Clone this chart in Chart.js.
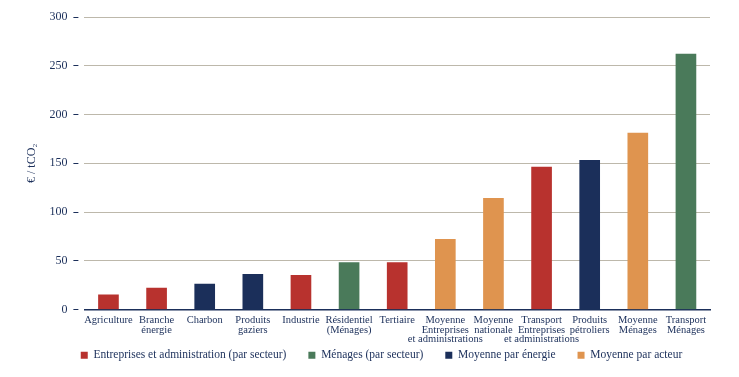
<!DOCTYPE html>
<html>
<head>
<meta charset="utf-8">
<script src="https://cdn.jsdelivr.net/npm/chart.js@4.4.0/dist/chart.umd.min.js"></script>
<style>
  html, body { margin: 0; padding: 0; background: #fff; }
</style>
</head>
<body>
<canvas id="chart" width="739" height="377"></canvas>
<script>
const categories = [
    'Agriculture', ['Branche', 'énergie'], 'Charbon', ['Produits', 'gaziers'], 'Industrie',
    ['Résidentiel', '(Ménages)'], 'Tertiaire', ['Moyenne', 'Entreprises', 'et administrations'],
    ['Moyenne', 'nationale'], ['Transport', 'Entreprises', 'et administrations'],
    ['Produits', 'pétroliers'], ['Moyenne', 'Ménages'], ['Transport', 'Ménages']
];
const values = [15, 22, 26, 36, 35, 48, 48, 72, 114, 146, 153, 181, 262];
// which legend group each bar belongs to (index into groupNames)
const groupOf = [0, 0, 2, 2, 0, 1, 0, 3, 3, 0, 2, 3, 1];
const groupNames = ['Entreprises et administration (par secteur)', 'Ménages (par secteur)', 'Moyenne par énergie', 'Moyenne par acteur'];
const groupColors = ['#b8322e', '#4a7a5a', '#1b2f5a', '#df944f'];
const yTicks = [0, 50, 100, 150, 200, 250, 300];

const navy = '#1b2f5a';
const serif = "'Liberation Serif', 'DejaVu Serif', serif";

const datasets = groupNames.map(function (name, g) {
    return {
        label: name,
        data: values.map(function (v, i) { return groupOf[i] === g ? v : null; }),
        backgroundColor: groupColors[g],
        barThickness: 20
    };
});

// legend in the original sits a bit right of centre; the x labels run into the legend's top padding
const layoutTweaks = {
    id: 'layoutTweaks',
    afterLayout: function (chart) {
        chart.legend.left += 14;
        chart.legend.right += 14;
        chart.scales.x.bottom = chart.scales.x.top + 45;
    }
};

new Chart(document.getElementById('chart').getContext('2d'), {
    type: 'bar',
    data: { labels: categories, datasets: datasets },
    plugins: [layoutTweaks],
    options: {
        responsive: false,
        animation: false,
        datasets: { bar: { grouped: false } },
        layout: { padding: { left: 25, right: 29, top: 17, bottom: 6 } },
        plugins: {
            tooltip: { enabled: false },
            legend: {
                position: 'bottom',
                labels: {
                    boxWidth: 7,
                    boxHeight: 7,
                    padding: 22,
                    color: navy,
                    font: { family: serif, size: 11.5 }
                }
            }
        },
        scales: {
            x: {
                grid: { display: false, drawTicks: false },
                border: { color: navy, width: 1.5 },
                afterFit: function (scale) { scale.height = 18; },
                ticks: {
                    color: navy,
                    padding: 6,
                    maxRotation: 0,
                    autoSkip: false,
                    font: { family: serif, size: 10.5, lineHeight: 0.92 }
                }
            },
            y: {
                min: 0,
                max: 300,
                afterBuildTicks: function (scale) {
                    scale.ticks = yTicks.map(function (v) { return { value: v }; });
                },
                border: { display: false },
                grid: {
                    color: '#bdb8ab',
                    lineWidth: 1,
                    tickLength: 11,
                    tickColor: navy,
                    tickBorderDash: [5, 6]
                },
                ticks: {
                    color: navy,
                    padding: 6,
                    font: { family: serif, size: 12 }
                },
                title: {
                    display: true,
                    text: '€ / tCO₂',
                    color: navy,
                    padding: { top: 0, bottom: 4 },
                    font: { family: serif, size: 12 }
                }
            }
        }
    }
});
</script>
</body>
</html>
